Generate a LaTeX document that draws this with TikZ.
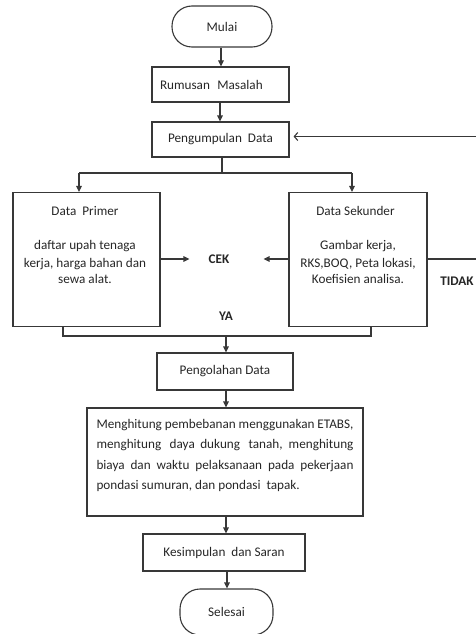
\documentclass[tikz,border=0pt]{standalone}
\usepackage{fontspec}
\setmainfont{Carlito}
\usetikzlibrary{arrows.meta}
\newcommand{\fsz}{\fontsize{13.2}{15}\selectfont}
\newcommand{\wsp}{\hspace{3pt}}
\begin{document}
\begin{tikzpicture}[x=1pt,y=-1pt,
  box/.style={draw=black!78, line width=1.1pt, rectangle, inner sep=0pt, font=\fsz, text=black!85},
  term/.style={draw=black!78, line width=1.1pt, rectangle, rounded corners=20pt, inner sep=0pt, font=\fsz, text=black!85},
  lbl/.style={inner sep=0pt, font=\fsz, text=black!85},
  bold/.style={lbl, font=\fsz\bfseries},
  line/.style={draw=black!78, line width=1.1pt},
  arr/.style={line, -{Triangle[length=6pt,width=5.5pt]}},
  barb/.style={line, -{Straight Barb[length=3.5pt,width=8pt]}},
]
\useasboundingbox (0,0) rectangle (476,634);
\clip (0,0) rectangle (476,634);
% terminals and boxes
\node[term, minimum width=100pt, minimum height=41pt] (mulai) at (222,26.5) {Mulai};
\node[box, minimum width=137pt, minimum height=35pt, align=left, text width=121pt] (rumusan) at (220.5,84.5) {Rumusan\wsp{} Masalah};
\node[box, minimum width=137pt, minimum height=35pt] (pengumpulan) at (220.5,139.5) {Pengumpulan\wsp{} Data};
\node[box, minimum width=147pt, minimum height=134pt] (primer) at (86.5,259.5) {};
\node[box, minimum width=138pt, minimum height=134pt] (sekunder) at (358,259.5) {};
\node[lbl] (primtitle) at (85,211) {Data\wsp{} Primer};
\node[lbl, align=center] (primtext) at (85,262) {daftar upah tenaga\\[3pt]kerja, harga bahan dan\\[1pt]sewa alat.};
\node[lbl] (sektitle) at (355.5,211) {Data Sekunder};
\node[lbl, align=center] (sektext) at (358,262) {Gambar kerja,\\[3pt]RKS,BOQ, Peta lokasi,\\[1pt]Koefisien analisa.};
\node[bold] (cek) at (219,259) {CEK};
\node[bold] (tidak) at (457,281) {TIDAK};
\node[bold] (ya) at (226,316) {YA};
\node[box, minimum width=136pt, minimum height=37pt] (pengolahan) at (225,371.5) {Pengolahan Data};
\node[box, minimum width=276pt, minimum height=108pt] (hitung) at (225,462)
  {\parbox[c][86pt][t]{257pt}{\baselineskip=20.5pt\hyphenpenalty=10000
   Menghitung pembebanan menggunakan ETABS,\linebreak
   menghitung \wsp daya dukung \wsp tanah, menghitung\linebreak
   biaya dan waktu pelaksanaan pada pekerjaan\linebreak
   pondasi sumuran, dan pondasi\wsp{} tapak.}};
\node[box, minimum width=162pt, minimum height=37pt] (kesimpulan) at (224,552.5) {Kesimpulan\wsp{} dan Saran};
\node[term, minimum width=93pt, minimum height=46pt] (selesai) at (226.5,612) {Selesai};
% coordinates
\coordinate (sl) at (79,173);
\coordinate (sr) at (352,173);
\coordinate (jl) at (63,336);
\coordinate (jr) at (371,336);
\coordinate (loop) at (482,259);
% connectors
\draw[arr] (mulai.south -| 221,0) -- (rumusan.north -| 221,0);
\draw[arr] (rumusan.south -| 220,0) -- (pengumpulan.north -| 220,0);
\draw[line] (pengumpulan.south -| 222,0) -- (sl -| 222,0);
\draw[line] (sl) -- (sr);
\draw[arr] (sl) -- (sl |- primer.north);
\draw[arr] (sr) -- (sr |- sekunder.north);
\draw[arr] (primer.east |- cek) -- ([xshift=-19pt]cek.west);
\draw[arr] (sekunder.west |- cek) -- ([xshift=34pt]cek.east);
\draw[barb] (sekunder.east |- cek) -- (loop) |- ([xshift=4pt]pengumpulan.east |- 0,136.5);
\draw[line] (primer.south -| jl) -- (jl) -- (jr) -- (sekunder.south -| jr);
\draw[arr] (jl -| 226,0) -- (pengolahan.north -| 226,0);
\draw[arr] (pengolahan.south -| 226,0) -- (hitung.north -| 226,0);
\draw[arr] (hitung.south -| 226,0) -- (kesimpulan.north -| 226,0);
\draw[arr] (kesimpulan.south -| 227,0) -- (selesai.north -| 227,0);
\end{tikzpicture}
\end{document}
